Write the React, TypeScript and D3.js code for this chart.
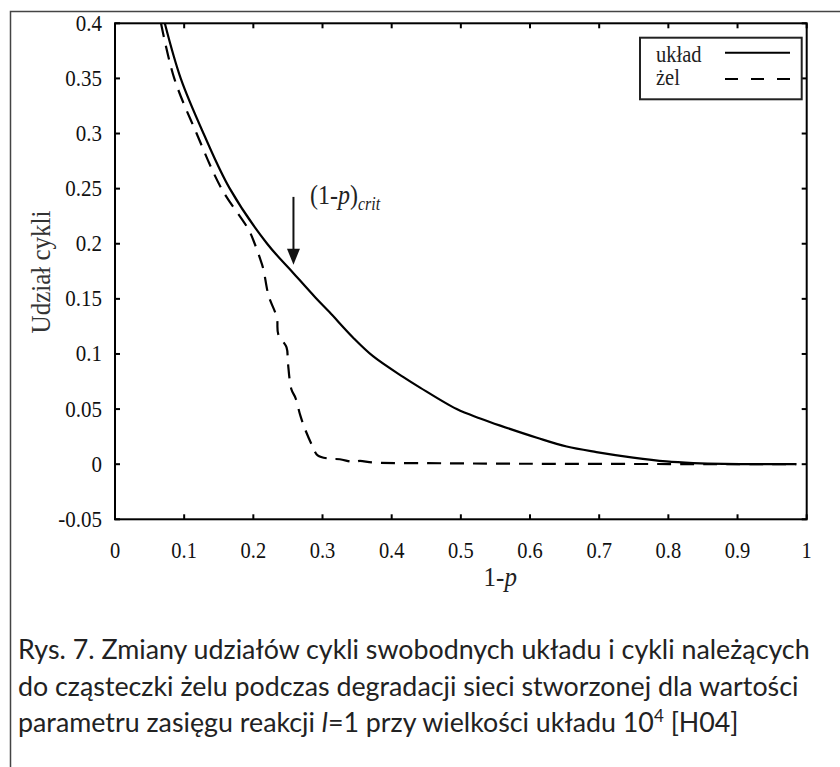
import React from 'react';
import * as d3 from 'd3';

// układ (whole system)
const ukladX = [0.072, 0.095, 0.128, 0.166, 0.22, 0.257, 0.29, 0.31, 0.344, 0.373, 0.417, 0.441, 0.494, 0.528, 0.557, 0.61, 0.653, 0.696, 0.749, 0.797, 0.836, 0.88, 0.985];
const ukladY = [0.4, 0.35, 0.3, 0.25, 0.2, 0.174, 0.151, 0.138, 0.115, 0.098, 0.079, 0.0695, 0.05, 0.0415, 0.035, 0.024, 0.016, 0.011, 0.006, 0.0025, 0.001, 0.0002, 0];

// żel (gel molecule)
const zelX = [0.0665, 0.0857, 0.118, 0.154, 0.193, 0.202, 0.21, 0.2145, 0.222, 0.234, 0.236, 0.248, 0.25, 0.255, 0.261, 0.268, 0.274, 0.285, 0.293, 0.31, 0.325, 0.345, 0.354, 0.373, 0.45, 0.55, 0.985];
const zelY = [0.4, 0.35, 0.3, 0.25, 0.213, 0.2, 0.186, 0.177, 0.153, 0.133, 0.118, 0.106, 0.092, 0.068, 0.06, 0.044, 0.033, 0.017, 0.008, 0.005, 0.0045, 0.002, 0.003, 0.0015, 0.001, 0.0005, 0];

const xTicks = [0, 0.1, 0.2, 0.3, 0.4, 0.5, 0.6, 0.7, 0.8, 0.9, 1];
const yTicks = [-0.05, 0, 0.05, 0.1, 0.15, 0.2, 0.25, 0.3, 0.35, 0.4];

// arrow marking (1-p)crit
const critX = 0.258;
const critArrowY = [0.2425, 0.181];

const captionLines = [
  'Rys. 7. Zmiany udziałów cykli swobodnych układu i cykli należących',
  'do cząsteczki żelu podczas degradacji sieci stworzonej dla wartości',
];

const serif = '"Liberation Serif", "Times New Roman", serif';
const sans = 'Lato, "Open Sans", sans-serif';
const stretch = 1.12; // the original figure's lettering is a bit tall

export default function App() {
  const W = 840;
  const H = 767;
  const margin = { top: 23.3, left: 115, right: 33.3, bottom: 247.7 };
  const iw = W - margin.left - margin.right;
  const ih = H - margin.top - margin.bottom;

  const x = d3.scaleLinear().domain([0, 1]).range([0, iw]);
  const y = d3.scaleLinear().domain([-0.05, 0.4]).range([ih, 0]);

  const line = d3
    .line<[number, number]>()
    .x(d => x(d[0]))
    .y(d => y(d[1]))
    .curve(d3.curveCatmullRom.alpha(0.5));

  const uklad = ukladX.map((v, i) => [v, ukladY[i]] as [number, number]);
  const zel = zelX.map((v, i) => [v, zelY[i]] as [number, number]);

  const tick = 5;
  const ax = x(critX);
  const ay0 = y(critArrowY[0]);
  const ay1 = y(critArrowY[1]);

  return (
    <svg width={W} height={H} style={{ position: 'absolute', left: 0, top: 0, background: '#fff' }}>
      {/* outer figure frame */}
      <rect x={10.5} y={11.5} width={W + 20} height={H + 20} fill="none" stroke="#444" strokeWidth={1.5} />

      <g transform={`translate(${margin.left},${margin.top})`}>
        <defs>
          <clipPath id="plot-clip">
            <rect x={0} y={0} width={iw} height={ih} />
          </clipPath>
        </defs>
        {/* data */}
        <g clipPath="url(#plot-clip)">
          <path d={line(uklad) || ''} fill="none" stroke="#000" strokeWidth={2.2} strokeLinejoin="round" />
          <path d={line(zel) || ''} fill="none" stroke="#000" strokeWidth={2.2} strokeDasharray="14,9" />
        </g>

        {/* axes frame */}
        <rect x={0} y={0} width={iw} height={ih} fill="none" stroke="#000" strokeWidth={2} />
        {xTicks.map(t => (
          <g key={'x' + t}>
            <line x1={x(t)} x2={x(t)} y1={ih} y2={ih - tick} stroke="#000" strokeWidth={2} />
            <line x1={x(t)} x2={x(t)} y1={0} y2={tick} stroke="#000" strokeWidth={2} />
            <text
              transform={`translate(${x(t)},${ih + 38.5}) scale(1,${stretch})`}
              textAnchor="middle"
              fontFamily={serif}
              fontSize={20.5}
              fill="#111"
            >
              {String(t)}
            </text>
          </g>
        ))}
        {yTicks.map(t => (
          <g key={'y' + t}>
            <line x1={0} x2={tick} y1={y(t)} y2={y(t)} stroke="#000" strokeWidth={2} />
            <line x1={iw} x2={iw - tick} y1={y(t)} y2={y(t)} stroke="#000" strokeWidth={2} />
            <text
              transform={`translate(-13,${y(t) + 7.5}) scale(1,${stretch})`}
              textAnchor="end"
              fontFamily={serif}
              fontSize={21}
              fill="#111"
            >
              {String(t)}
            </text>
          </g>
        ))}

        {/* axis titles */}
        <text
          transform={`translate(${x(0.557)},${ih + 67}) scale(1,${stretch})`}
          textAnchor="middle"
          fontFamily={serif}
          fontSize={25}
          fill="#222"
        >
          1-<tspan fontStyle="italic">p</tspan>
        </text>
        <text
          transform={`translate(${50 - margin.left},${272 - margin.top}) rotate(-90) scale(1,${stretch})`}
          textAnchor="middle"
          fontFamily={serif}
          fontSize={25}
          fill="#333"
        >
          Udział cykli
        </text>

        {/* critical point arrow */}
        <line x1={ax} x2={ax} y1={ay0} y2={ay1 - 12} stroke="#111" strokeWidth={2} />
        <path d={`M${ax - 6.5},${ay1 - 16}L${ax + 6.5},${ay1 - 16}L${ax},${ay1}Z`} fill="#111" />
        <text
          transform={`translate(${x(0.282)},${y(0.236)}) scale(1,${stretch})`}
          fontFamily={serif}
          fontSize={24}
          fill="#222"
        >
          (1-<tspan fontStyle="italic">p</tspan>)
          <tspan fontStyle="italic" fontSize={16} dy={5}>crit</tspan>
        </text>

        {/* legend */}
        <g transform={`translate(${640 - margin.left},${37.7 - margin.top})`}>
          <rect x={0} y={0} width={161.7} height={61.6} fill="#fff" stroke="#222" strokeWidth={2} />
          <text transform={`translate(16,24) scale(1,${stretch})`} fontFamily={serif} fontSize={20.5} fill="#222">układ</text>
          <text transform={`translate(16,47) scale(1,${stretch})`} fontFamily={serif} fontSize={20.5} fill="#222">żel</text>
          <line x1={85} x2={150} y1={15} y2={15} stroke="#000" strokeWidth={2} />
          <line x1={85} x2={150} y1={41.3} y2={41.3} stroke="#000" strokeWidth={2} strokeDasharray="13,13" />
        </g>
      </g>

      {/* caption */}
      <g fontFamily={sans} fontSize={26.8} fill="#222">
        {captionLines.map((l, i) => (
          <text key={i} x={18} y={659 + i * 36.5}>{l}</text>
        ))}
        <text x={18} y={732}>
          parametru zasięgu reakcji <tspan fontStyle="italic">l</tspan>=1 przy wielkości układu 10
          <tspan fontSize={17} dy={-10}>4</tspan>
          <tspan dy={10}> [H04]</tspan>
        </text>
      </g>
    </svg>
  );
}
